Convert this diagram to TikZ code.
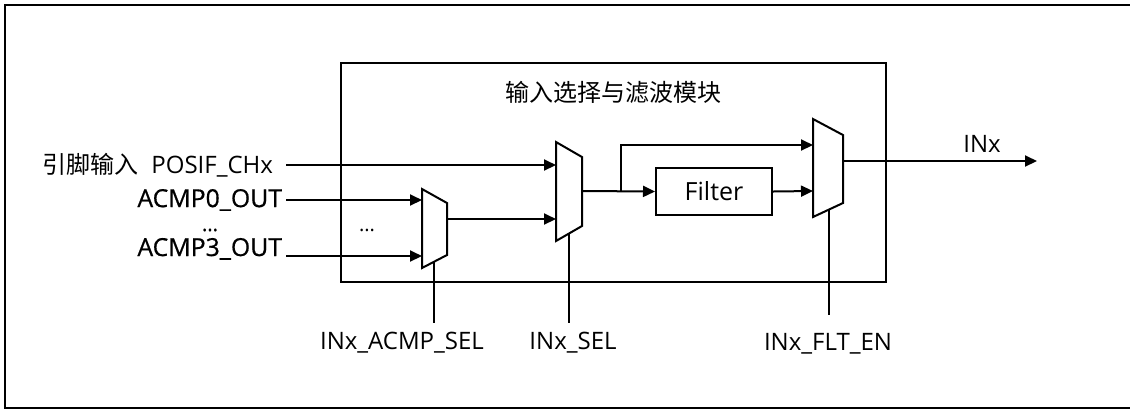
\documentclass[tikz,border=0pt]{standalone}
\usepackage{fontspec}
\setmainfont{Open Sans}
\newfontfamily\cjk{Noto Sans CJK SC}
\newfontfamily\heavy[FakeBold=0.6]{Open Sans}
\usetikzlibrary{arrows.meta}

\begin{document}
\begin{tikzpicture}[x=0.5pt,y=-0.5pt,
        font=\fontsize{12pt}{14pt}\selectfont,
        wire/.style={line width=1pt},
        sig/.style={wire,-{Triangle[length=6pt,width=5.5pt]}},
        muxbox/.style={line width=1pt,line join=miter},
        lbl/.style={inner sep=0pt},
        acmplbl/.style={lbl,font=\heavy\fontsize{12.4pt}{14pt}\selectfont}]
        \useasboundingbox (0,0) rectangle (1130,409);

        % Outer frame (right side runs off the page)
        \draw[line width=1.2pt] (1140,5) -- (5,5) -- (5,408) -- (1140,408);

        % Block
        \draw[line width=1pt] (341,63) rectangle (886,282);
        \node[lbl,font=\cjk\fontsize{12pt}{14pt}\selectfont] (title) at (613,92) {输入选择与滤波模块};

        % Muxes
        \draw[muxbox] (422,189) -- (447,203) -- (447,255) -- (422,268) -- cycle;
        \coordinate (acmpin0) at (422,200);
        \coordinate (acmpin3) at (422,256);
        \coordinate (acmpout) at (447,219);
        \coordinate (acmpbot) at (434,262);

        \draw[muxbox] (556,142) -- (582,157) -- (582,226) -- (556,241) -- cycle;
        \coordinate (selin0) at (556,165);
        \coordinate (selin1) at (556,219);
        \coordinate (selout) at (582,191);
        \coordinate (selbot) at (569,233.5);

        \draw[muxbox] (813,119) -- (843,135) -- (843,203) -- (813,217) -- cycle;
        \coordinate (fltin0) at (813,145);
        \coordinate (fltin1) at (813,191);
        \coordinate (fltout) at (843,161);
        \coordinate (fltbot) at (829,209.5);

        % Filter
        \node[draw,line width=1pt,inner sep=0pt,minimum width=58pt,minimum height=23.5pt,
              font=\fontsize{12.5pt}{14pt}\selectfont] (filter) at (714,191.5) {Filter};

        % Inputs
        \node[lbl,anchor=east,outer xsep=6.5pt] (posif) at (286,165) {{\cjk 引脚输入}\ \ POSIF\_CHx};
        \node[acmplbl,anchor=east,outer xsep=2pt] (acmp0) at (286,200) {ACMP0\_OUT};
        \node[acmplbl,anchor=base east,outer xsep=2pt] (acmp3) at (286,256) {ACMP3\_OUT};
        \node[lbl,font=\heavy\fontsize{10pt}{12pt}\selectfont] (dotsa) at (210,230) {...};
        \node[lbl,font=\fontsize{10pt}{12pt}\selectfont] (dotsb) at (367,230) {...};

        \draw[sig] (posif.east) -- (selin0);
        \draw[sig] (acmp0.east) -- (acmpin0);
        \draw[sig] (acmp3.base east) -- (acmpin3);
        \draw[sig] (acmpout) -- (selin1);

        % Filter path and bypass
        \coordinate (branch) at (621,191);
        \draw[sig] (selout) -- (filter.west);
        \draw[sig] (branch) |- (fltin0);
        \draw[sig] (filter.east) -- (fltin1);

        % Output
        \coordinate (inxend) at (1037,161);
        \draw[sig] (fltout) -- (inxend);
        \node[lbl] (inx) at (982,144) {INx};

        % Select signals
        \node[lbl,anchor=north] (acmpsel) at (402,332) {INx\_ACMP\_SEL};
        \node[lbl,anchor=north] (insel) at (573,332) {INx\_SEL};
        \node[lbl,anchor=north] (flten) at (828,333) {INx\_FLT\_EN};

        \draw[wire] (acmpbot) -- ([yshift=4.5pt]acmpbot |- acmpsel.north);
        \draw[wire] (selbot) -- ([yshift=4.5pt]selbot |- insel.north);
        \draw[wire] (fltbot) -- ([yshift=9pt]fltbot |- flten.north);
    \end{tikzpicture}
\end{document}
